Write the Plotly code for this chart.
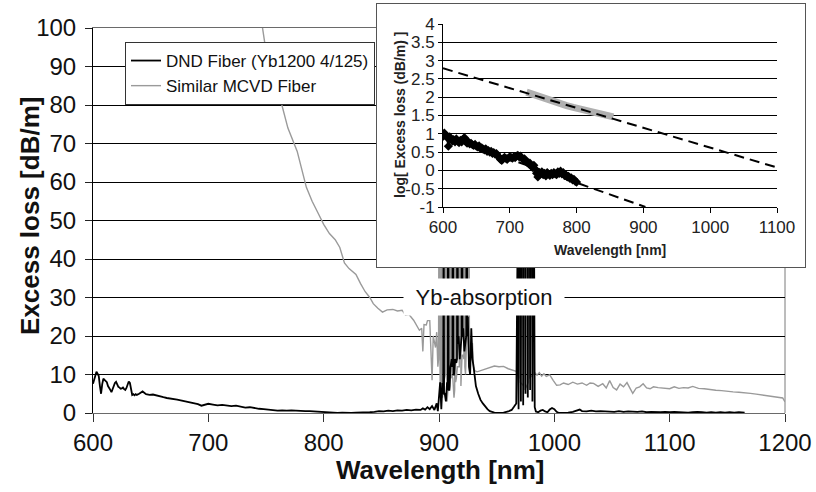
import plotly.graph_objects as go

# ---------------- data ----------------
# Main chart: DND fiber (black)
dnd_wl = [
    600, 601, 602, 603, 604, 605, 606, 607, 608, 609,
    610, 611, 612, 613, 614, 615, 616, 617, 618, 619,
    620, 621, 622, 623, 624, 625, 626, 627, 628, 629,
    630, 631, 632, 633, 634, 635, 636, 637, 638, 640,
    643, 646, 649, 652, 655, 658, 661, 664, 667, 670,
    673, 676, 679, 682, 685, 688, 691, 694, 697, 700,
    704, 708, 712, 716, 720, 724, 728, 732, 736, 740,
    744, 748, 752, 756, 760, 764, 768, 772, 776, 780,
    784, 788, 792, 796, 800, 804, 808, 812, 816, 820,
    824, 828, 832, 836, 840, 844, 848, 852, 856, 860,
    864, 868, 872, 876, 880, 884, 886, 888, 890, 892,
    894, 896, 898, 899, 900, 901, 902, 903, 903.6, 904,
    904.4, 905, 906, 907, 907.6, 908, 908.4, 909, 910, 911,
    911.6, 912, 912.4, 913, 914, 915, 915.6, 916, 916.4, 917,
    918, 919, 919.6, 920, 920.4, 921, 922, 923, 923.6, 924,
    924.4, 925, 926, 927, 928, 929, 930, 931, 932, 934,
    936, 938, 940, 942, 944, 946, 948, 952, 956, 960,
    963, 965, 967, 968, 969, 970, 971, 972, 973, 974,
    975, 976, 977, 978, 979, 980, 981, 982, 983, 984,
    986, 988, 990, 992, 994, 996, 998, 1000, 1002, 1004,
    1008, 1012, 1016, 1020, 1022, 1024, 1028, 1032, 1036, 1040,
    1044, 1048, 1052, 1056, 1060, 1064, 1068, 1072, 1076, 1080,
    1084, 1088, 1092, 1096, 1100, 1104, 1108, 1112, 1116, 1120,
    1124, 1128, 1132, 1136, 1140, 1144, 1148, 1152, 1156, 1160,
    1165,
]
dnd_loss = [
    7.6, 8.8, 10.0, 10.7, 10.2, 9.6, 7.0, 5.0, 7.5, 8.9,
    8.6, 8.3, 8.0, 7.0, 6.6, 6.0, 5.4, 6.4, 7.2, 7.8,
    8.1, 7.4, 6.8, 6.6, 6.3, 6.4, 6.6, 6.2, 6.0, 6.5,
    7.6, 8.2, 7.8, 5.6, 4.7, 4.9, 4.6, 4.9, 4.7, 5.0,
    5.6, 4.9, 4.7, 4.8, 4.5, 4.4, 4.1, 3.9, 3.8, 3.6,
    3.5, 3.3, 3.1, 3.0, 2.7, 2.5, 2.3, 1.9, 2.1, 2.4,
    2.2, 2.0, 2.1, 1.9, 1.8, 1.9, 1.6, 1.4, 1.5, 1.2,
    1.1, 1.0, 0.9, 0.8, 0.6, 0.7, 0.6, 0.7, 0.6, 0.5,
    0.5, 0.5, 0.4, 0.4, 0.3, 0.2, 0.0, 0.0, 0.1, 0.0,
    0.0, 0.1, 0.1, 0.2, 0.2, 0.3, 0.5, 0.4, 0.6, 0.5,
    0.7, 0.6, 0.8, 0.7, 0.9, 0.8, 1.2, 0.9, 1.5, 1.0,
    1.8, 0.8, 2.5, 0.5, 4.0, 8.0, 1.0, 7.8, 5.0, 90,
    5.0, 5.0, 3.0, 8.0, 6.0, 150, 6.0, 6.0, 12, 14,
    12, 200, 10, 10, 14, 13, 14, 220, 18, 20,
    14, 18, 20, 250, 20, 22, 16, 18, 20, 190,
    20, 25, 12, 10, 22, 14, 12, 9.0, 7.0, 5.0,
    3.4, 2.5, 1.6, 1.0, 0.5, 0.3, 0.1, 0.0, 0.1, 0.4,
    0.8, 1.6, 2.5, 40, 1.0, 150, 3.0, 200, 2.0, 250,
    5.0, 300, 4.0, 220, 6.0, 160, 3.0, 80, 1.5, 0.4,
    0.2, 0.6, 0.8, 0.4, 0.2, 0.9, 1.3, 1.0, 0.3, 0.0,
    0.0, 0.1, 0.3, 0.6, 0.9, 0.5, 0.4, 0.6, 0.4, 0.5,
    0.4, 0.4, 0.3, 0.5, 0.3, 0.4, 0.3, 0.3, 0.4, 0.2,
    0.3, 0.2, 0.2, 0.3, 0.2, 0.3, 0.2, 0.2, 0.1, 0.2,
    0.3, 0.2, 0.1, 0.2, 0.1, 0.2, 0.1, 0.2, 0.1, 0.2,
    0.1,
]

# Main chart: similar MCVD fiber (grey)
mcvd_wl = [
    745, 747, 750, 755, 762, 769, 777, 785, 790, 795,
    800, 805, 810, 814, 818, 822, 828, 832, 836, 840,
    843, 847, 851, 855, 860, 864, 868, 871, 874, 878,
    881, 883, 885, 886, 887, 889, 890, 892, 894, 895,
    897, 898, 899, 899.6, 900, 900.4, 901, 901.6, 902, 902.4,
    903, 904, 905, 905.6, 906, 906.4, 907, 908, 909, 909.6,
    910, 910.4, 911, 912, 913, 913.6, 914, 914.4, 915, 916,
    917, 917.6, 918, 918.4, 919, 920, 921, 921.6, 922, 922.4,
    923, 924, 925, 925.6, 926, 926.4, 927, 928, 929, 930,
    931, 933, 936, 940, 944, 948, 952, 956, 960, 964,
    967, 969.6, 970, 970.4, 973.6, 974, 974.4, 977.6, 978, 978.4,
    981.6, 982, 982.4, 983, 985, 987, 989, 991, 993, 996,
    999, 1002, 1005, 1008, 1012, 1016, 1020, 1024, 1028, 1031,
    1034, 1038, 1042, 1045, 1048, 1051, 1054, 1057, 1060, 1063,
    1066, 1068, 1071, 1074, 1077, 1080, 1083, 1086, 1090, 1095,
    1100, 1104, 1108, 1112, 1116, 1120, 1125, 1130, 1135, 1140,
    1145, 1150, 1155, 1160, 1165, 1170, 1175, 1180, 1185, 1190,
    1195, 1198, 1200,
]
mcvd_loss = [
    104, 100, 94, 89, 82, 74, 68, 58.6, 55, 52,
    49, 46.6, 45, 43, 39, 37.5, 36, 33.6, 31.5, 30,
    28.4, 27.2, 26.2, 26.8, 26.9, 26.5, 26.7, 25.4, 25.6, 24.1,
    22.5, 21.5, 22, 16, 23, 22.9, 24, 24, 8.5, 20,
    17, 21, 12, 14, 60, 10, 6, 6, 120, 6,
    4, 8, 10, 10, 200, 8, 3, 7, 6, 7,
    220, 9, 10, 9, 4, 6, 240, 8, 9, 12,
    12, 12, 170, 9, 7, 15, 15, 14, 120, 12,
    10, 20, 20, 22, 60, 16, 14, 18, 18, 12,
    11, 10.7, 11, 11.5, 12, 12.2, 12, 12.1, 11.5, 11,
    10.8, 9, 120, 8, 7, 230, 6, 8, 160, 9,
    10, 50, 10, 10.5, 9.8, 10.5, 9.6, 10.2, 9.5, 9.9,
    8.5, 7.2, 7.3, 7.8, 7.4, 8.0, 7.5, 7.8, 7.2, 7.8,
    7.7, 6.9, 7.6, 6.5, 8.4, 6.6, 6.0, 7.5, 6.8, 7.9,
    6.2, 5.1, 6.5, 6.8, 7.6, 6.5, 6.3, 6.8, 6.6, 6.5,
    6.3, 6.8, 6.4, 6.6, 6.5, 6.9, 6.4, 6.3, 6.0, 5.9,
    5.8, 5.6, 5.5, 5.4, 5.3, 5.1, 4.9, 4.7, 4.6, 4.3,
    4.1, 3.9, 2.9,
]

# Inset: log10 of excess loss
inset_dnd_wl = [
    600, 602, 604, 606, 608, 610, 612, 614, 616, 618,
    620, 622, 624, 626, 628, 630, 632, 634, 636, 638,
    640, 642, 644, 646, 648, 650, 652, 654, 656, 658,
    660, 662, 664, 666, 668, 670, 672, 674, 676, 678,
    680, 682, 684, 686, 688, 690, 692, 694, 696, 698,
    700, 702, 704, 706, 708, 710, 712, 714, 716, 718,
    720, 722, 724, 726, 728, 730, 732, 734, 736, 738,
    740, 742, 744, 746, 748, 750, 752, 754, 756, 758,
    760, 762, 764, 766, 768, 770, 772, 774, 776, 778,
    780, 782, 784, 786, 788, 790, 792, 794, 796, 798,
    800,
]
inset_dnd_log = [
    0.93, 1.02, 0.95, 0.90, 0.66, 0.92, 0.86, 0.80, 0.84, 0.78,
    0.86, 0.80, 0.76, 0.82, 0.78, 0.84, 0.90, 0.80, 0.74, 0.78,
    0.72, 0.74, 0.70, 0.68, 0.71, 0.66, 0.64, 0.67, 0.60, 0.62,
    0.58, 0.56, 0.59, 0.52, 0.54, 0.50, 0.52, 0.46, 0.49, 0.44,
    0.46, 0.40, 0.36, 0.30, 0.27, 0.32, 0.36, 0.33, 0.30, 0.34,
    0.37, 0.35, 0.33, 0.37, 0.35, 0.39, 0.41, 0.37, 0.39, 0.34,
    0.30, 0.32, 0.26, 0.22, 0.18, 0.20, 0.12, 0.08, 0.14, 0.04,
    -0.08, -0.18, -0.06, -0.10, -0.04, -0.12, -0.08, -0.15, -0.06, -0.10,
    -0.14, -0.08, -0.12, -0.06, -0.10, -0.12, -0.04, -0.08, -0.02, -0.10,
    -0.06, -0.14, -0.12, -0.18, -0.16, -0.22, -0.20, -0.26, -0.24, -0.30,
    -0.32,
]
inset_mcvd_wl = [725, 735, 745, 755, 765, 775, 785, 795, 805, 815, 825, 835, 845, 855]
inset_mcvd_log = [2.14, 2.07, 2.02, 1.95, 1.88, 1.82, 1.77, 1.72, 1.68, 1.63, 1.57, 1.53, 1.50, 1.46]

fit_mcvd_wl = [600, 1100]
fit_mcvd_log = [2.79, 0.08]
fit_dnd_wl = [600, 903]
fit_dnd_log = [0.95, -1.0]

main_x_ticks = [600, 700, 800, 900, 1000, 1100, 1200]
main_y_ticks = [0, 10, 20, 30, 40, 50, 60, 70, 80, 90, 100]
inset_x_ticks = [600, 700, 800, 900, 1000, 1100]
inset_y_ticks = [-1, -0.5, 0, 0.5, 1, 1.5, 2, 2.5, 3, 3.5, 4]
inset_y_labels = ["-1", "-0.5", "0", "0.5", "1", "1.5", "2", "2.5", "3", "3.5", "4"]

# ---------------- layout geometry (pixels) ----------------
W_PX, H_PX = 816, 492
ML, MR, MT, MB = 93, 11, 4, 79
PW, PH = W_PX - ML - MR, H_PX - MT - MB


def px_x(p):
    return (p - ML) / PW


def px_y(p):
    return (H_PX - MB - p) / PH


FONT = "Liberation Sans, Arial, sans-serif"
NARROW = "Liberation Sans Narrow, Arial Narrow, Liberation Sans, Arial, sans-serif"

fig = go.Figure()

# grey first so that the black DND curve is drawn on top; legend order reversed below
fig.add_trace(go.Scatter(x=mcvd_wl, y=mcvd_loss, mode="lines", name="Similar MCVD Fiber",
                         line=dict(color="#9a9a9a", width=1.4), xaxis="x", yaxis="y"))
fig.add_trace(go.Scatter(x=dnd_wl, y=dnd_loss, mode="lines", name="DND Fiber (Yb1200 4/125)",
                         line=dict(color="black", width=1.8), xaxis="x", yaxis="y"))

# empty trace that registers the white panel behind the inset
fig.add_trace(go.Scatter(x=[], y=[], mode="lines", showlegend=False, hoverinfo="skip",
                         xaxis="x2", yaxis="y2"))

# inset traces
fig.add_trace(go.Scatter(x=inset_mcvd_wl, y=inset_mcvd_log, mode="lines", showlegend=False,
                         line=dict(color="#b0b0b0", width=7), xaxis="x3", yaxis="y3"))
fig.add_trace(go.Scatter(x=inset_dnd_wl, y=inset_dnd_log, mode="lines+markers", showlegend=False,
                         line=dict(color="black", width=2),
                         marker=dict(symbol="diamond", size=7, color="black"),
                         xaxis="x3", yaxis="y3"))
fig.add_trace(go.Scatter(x=fit_mcvd_wl, y=fit_mcvd_log, mode="lines", showlegend=False,
                         line=dict(color="black", width=2, dash="10px,6px"), xaxis="x3", yaxis="y3"))
fig.add_trace(go.Scatter(x=fit_dnd_wl, y=fit_dnd_log, mode="lines", showlegend=False,
                         line=dict(color="black", width=2, dash="10px,6px"), xaxis="x3", yaxis="y3"))

main_xdom = [0, px_x(785)]
main_ydom = [0, px_y(28)]
cover_xdom = [px_x(377), 1]
cover_ydom = [px_y(267), 1]
inset_xdom = [px_x(443), px_x(777)]
inset_ydom = [px_y(207), px_y(24)]

fig.update_layout(
    width=W_PX, height=H_PX,
    margin=dict(l=ML, r=MR, t=MT, b=MB, pad=0, autoexpand=False),
    paper_bgcolor="white", plot_bgcolor="white",
    font=dict(family=FONT, color="#111111"),
    showlegend=True,
    legend=dict(x=px_x(125), y=px_y(42), xanchor="left", yanchor="top",
                bgcolor="white", bordercolor="#333333", borderwidth=1,
                font=dict(family=FONT, size=17, color="#111111"),
                itemwidth=30, tracegroupgap=0, traceorder="reversed"),
    xaxis=dict(domain=main_xdom, anchor="y", range=[600, 1200], tickvals=main_x_ticks,
               ticks="outside", ticklen=8, tickcolor="#333333", showline=True, linecolor="#6a6a6a",
               linewidth=1, mirror=True, showgrid=False, zeroline=False, automargin=False,
               tickfont=dict(size=24, family=FONT, color="#111111")),
    yaxis=dict(domain=main_ydom, anchor="x", range=[0, 100], tickvals=main_y_ticks,
               ticks="outside", ticklen=7, tickcolor="#222222", showline=True, linecolor="black",
               linewidth=1, showgrid=True, gridcolor="black", gridwidth=1, zeroline=False,
               automargin=False, ticklabelstandoff=4,
               tickfont=dict(size=24, family=FONT, color="#111111")),
    xaxis2=dict(domain=cover_xdom, anchor="y2", range=[0, 1], showline=True, mirror=True,
                linecolor="#555555", linewidth=1, showticklabels=False, ticks="",
                showgrid=False, zeroline=False, fixedrange=True, automargin=False),
    yaxis2=dict(domain=cover_ydom, anchor="x2", range=[0, 1], showline=True, mirror=True,
                linecolor="#555555", linewidth=1, showticklabels=False, ticks="",
                showgrid=False, zeroline=False, fixedrange=True, automargin=False),
    xaxis3=dict(domain=inset_xdom, anchor="y3", range=[600, 1100], tickvals=inset_x_ticks,
                ticks="outside", ticklen=5, tickcolor="black", showline=True, linecolor="black",
                linewidth=1, showgrid=False, zeroline=False, automargin=False,
                tickfont=dict(size=17, family=NARROW, color="#222222")),
    yaxis3=dict(domain=inset_ydom, anchor="x3", range=[-1, 4], tickvals=inset_y_ticks,
                ticktext=inset_y_labels, ticks="outside", ticklen=4, tickcolor="black",
                showline=True, linecolor="black", linewidth=1, showgrid=True,
                gridcolor="black", gridwidth=1, zeroline=False, automargin=False,
                tickfont=dict(size=17, family=NARROW, color="#222222")),
    shapes=[
        dict(type="line", xref="paper", yref="paper", x0=main_xdom[1], x1=main_xdom[1],
             y0=0, y1=main_ydom[1], line=dict(color="#7a7a7a", width=1), layer="below"),
    ],
    annotations=[
        dict(text="Wavelength [nm]", xref="paper", yref="paper", x=px_x(440), y=px_y(470),
             xanchor="center", yanchor="middle", showarrow=False,
             font=dict(family=FONT, size=26, color="#111111", weight="bold")),
        dict(text="Excess loss [dB/m]", xref="paper", yref="paper", x=px_x(30), y=px_y(216),
             xanchor="center", yanchor="middle", showarrow=False, textangle=-90,
             font=dict(family=FONT, size=26, color="#111111", weight="bold")),
        dict(text="Yb-absorption", xref="paper", yref="paper", x=px_x(484), y=px_y(297),
             xanchor="center", yanchor="middle", showarrow=False, bgcolor="white",
             width=158, height=34,
             font=dict(family=FONT, size=22, color="#111111")),
        dict(text="Wavelength [nm]", xref="paper", yref="paper", x=px_x(610), y=px_y(250),
             xanchor="center", yanchor="middle", showarrow=False,
             font=dict(family=NARROW, size=14, color="#222222", weight="bold")),
        dict(text="log[ Excess loss (dB/m) ]", xref="paper", yref="paper", x=px_x(400),
             y=px_y(115), xanchor="center", yanchor="middle", showarrow=False, textangle=-90,
             font=dict(family=NARROW, size=14, color="#222222", weight="bold")),
    ],
)

fig.write_html("out.html")
